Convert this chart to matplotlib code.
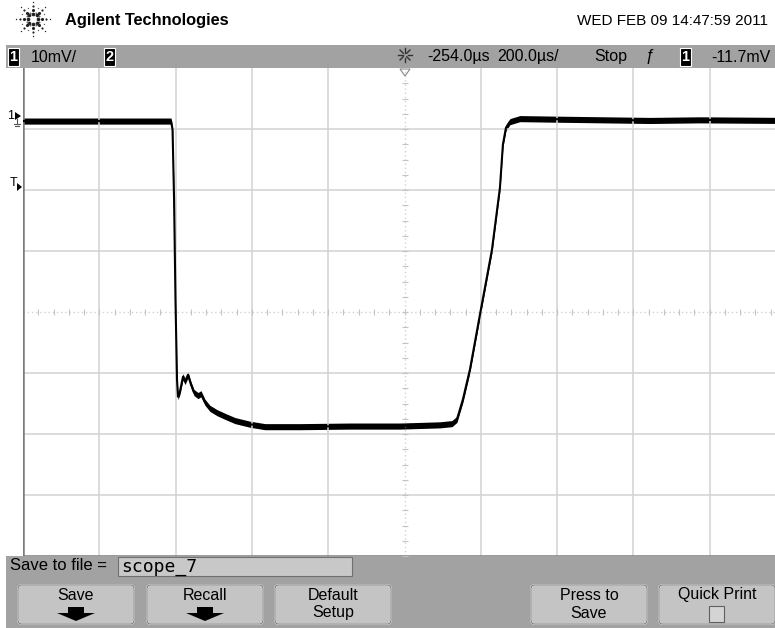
import matplotlib
matplotlib.use('Agg')
from matplotlib import pyplot as plt
from matplotlib.patches import Rectangle, FancyBboxPatch, Polygon
import numpy as np

# scope settings shown on the screen
volts_per_div = 10.0     # mV/div
time_per_div = 200.0     # us/div
delay_us = -254.0
trig_level_mv = -11.7
ground_div = 3.2         # ch1 ground marker, divisions above centre

# channel 1 trace (time us, volts mV)
time_us = [-1254, -866, -862, -858, -854.3, -850.3, -847.7, -842.5, -834.6, -829.4,
           -821.5, -813.7, -805.8, -795.3, -787.5, -777, -764, -745.5, -724.6, -698.4,
           -659, -619.7, -528, -397, -266, -161, -129.6, -116.5, -100.8, -82.4,
           -56.2, -24.8, -3.8, 4.0, 11.9, 22.4, 48.6, 153.5, 389, 520, 746]
volt_mv = [-0.7, -0.7, -2.1, -13.6, -30.0, -43.1, -45.9, -45.0, -42.6, -43.4,
           -42.3, -43.9, -45.2, -45.7, -45.4, -46.8, -47.8, -48.5, -49.1, -49.8,
           -50.4, -50.8, -50.8, -50.7, -50.7, -50.5, -50.3, -49.6, -46.3, -41.4,
           -32.4, -21.8, -11.6, -4.5, -1.8, -0.8, -0.3, -0.4, -0.6, -0.5, -0.6]

header_date = 'WED FEB 09 14:47:59 2011'
softkeys = ['Save', 'Recall', 'Default\nSetup', '', 'Press to\nSave', 'Quick Print']

SANS = ['Liberation Sans', 'DejaVu Sans']
GRID = '#d2d2d2'
BAR = '#a2a2a2'
KEY = '#c4c4c4'


def main():
    W, H = 775, 628
    fig = plt.figure(figsize=(W / 100, H / 100), dpi=100)
    fig.patch.set_facecolor('white')

    # background axes in pixel units for the scope furniture
    bg = fig.add_axes([0, 0, 1, 1])
    bg.set_xlim(0, W)
    bg.set_ylim(H, 0)
    bg.axis('off')

    # agilent spark logo
    cx, cy = 33, 19
    for k in range(8):
        a = k * np.pi / 4
        for r, s in [(5, 7), (9, 5), (13, 2.5), (17, 1)]:
            bg.scatter(cx + r * np.cos(a), cy + r * np.sin(a), s=s, color='#222222', lw=0)
        a2 = a + np.pi / 8
        for r, s in [(7, 2), (12, 1)]:
            bg.scatter(cx + r * np.cos(a2), cy + r * np.sin(a2), s=s, color='#666666', lw=0)
    bg.text(65, 21, 'Agilent Technologies', fontsize=11.8, fontweight='bold',
            family=SANS, va='center', ha='left')
    bg.text(768, 21, header_date, fontsize=11, family=SANS, va='center', ha='right')

    # top status bar
    bg.add_patch(Rectangle((6, 45), W - 6, 23, color=BAR, lw=0))
    for x0, lab in [(8, '1'), (104, '2'), (680, '1')]:
        bg.add_patch(Rectangle((x0, 47.5), 11, 18, facecolor='black', edgecolor='white', lw=0.8))
        bg.text(x0 + 5.5, 57, lab, color='white', fontsize=10.5, fontweight='bold',
                family=SANS, ha='center', va='center')
    bar_items = [(31, '%gmV/' % volts_per_div, 'left'),
                 (490, '%.1fµs' % delay_us, 'right'),
                 (497, '%.1fµs/' % time_per_div, 'left'),
                 (594, 'Stop', 'left'),
                 (650, 'ƒ', 'center'),
                 (771, '%.1fmV' % trig_level_mv, 'right')]
    for x0, lab, ha in bar_items:
        bg.text(x0, 57, lab, fontsize=11.5, family=SANS, ha=ha, va='center')
    # delay marker (sun) and triangle
    for k in range(8):
        a = k * np.pi / 4
        bg.plot([405 + 2.5 * np.cos(a), 405 + 7 * np.cos(a)],
                [55 + 2.5 * np.sin(a), 55 + 7 * np.sin(a)], color='#333333', lw=1)
    bg.add_patch(Polygon([(400, 69), (410, 69), (405, 76)], closed=True,
                         facecolor='white', edgecolor='#888888', lw=0.8))

    # bottom soft key area
    bg.add_patch(Rectangle((6, 556), W - 6, H - 556, color=BAR, lw=0))
    bg.text(10, 566, 'Save to file =', fontsize=12, family=SANS, ha='left', va='center')
    bg.add_patch(Rectangle((118, 557), 234, 19, facecolor='#c8c8c8', edgecolor='#707070', lw=0.8))
    bg.text(121, 566.5, 'scope_7', fontsize=13, family='DejaVu Sans Mono', ha='left', va='center')

    key_x = [17, 146, 274, 402, 530, 658]
    for x0, lab in zip(key_x, softkeys):
        if not lab:
            continue
        bg.add_patch(FancyBboxPatch((x0 + 1, 585), 116, 39, boxstyle='round,pad=0,rounding_size=4',
                                    facecolor=KEY, edgecolor='#eeeeee', lw=1.2))
        bg.add_patch(FancyBboxPatch((x0 + 1, 585), 116, 39, boxstyle='round,pad=0,rounding_size=4',
                                    facecolor='none', edgecolor='#6a6a6a', lw=0.6))
        xc = x0 + 59
        if '\n' in lab:
            top, bot = lab.split('\n')
            bg.text(xc, 595, top, fontsize=11.5, family=SANS, ha='center', va='center')
            bg.text(xc, 613, bot, fontsize=11.5, family=SANS, ha='center', va='center')
        else:
            bg.text(xc, 595, lab, fontsize=11.5, family=SANS, ha='center', va='center')
        if lab in ('Save', 'Recall'):
            bg.add_patch(Polygon([(xc - 8, 607), (xc + 8, 607), (xc + 8, 613), (xc + 19, 613),
                                  (xc, 621), (xc - 19, 613), (xc - 8, 613)],
                                 closed=True, color='black', lw=0))
        if lab == 'Quick Print':
            bg.add_patch(Rectangle((xc - 8, 606), 15, 16, facecolor='#d4d4d4',
                                   edgecolor='#606060', lw=0.8))

    # channel and trigger markers left of the graticule
    bg.text(11, 116, '1', fontsize=9, family=SANS, ha='center', va='center')
    bg.add_patch(Polygon([(15, 112), (15, 120), (21, 116)], closed=True, color='black', lw=0))
    bg.plot([17, 17], [119, 124], color='#555555', lw=0.8)
    bg.plot([14, 20], [124, 124], color='#555555', lw=0.8)
    bg.plot([15, 19], [126, 126], color='#555555', lw=0.8)
    bg.text(14, 183, 'T', fontsize=9, family=SANS, ha='center', va='center')
    bg.add_patch(Polygon([(17, 183), (17, 191), (22, 187)], closed=True, color='black', lw=0))

    # graticule axes: 10 x 8 divisions, right edge runs off the screen
    left_px, top_px, wdiv, hdiv = 23, 68, 76.3, 61.0
    ax = fig.add_axes([left_px / W, 1 - (top_px + 8 * hdiv) / H, 10 * wdiv / W, 8 * hdiv / H])
    ax.set_facecolor('none')
    t0 = delay_us - 5 * time_per_div
    t1 = delay_us + 5 * time_per_div
    v0 = (-4 - ground_div) * volts_per_div
    v1 = (4 - ground_div) * volts_per_div
    ax.set_xlim(t0, t1)
    ax.set_ylim(v0, v1)
    ax.set_xticks([])
    ax.set_yticks([])
    for s in ax.spines.values():
        s.set_visible(False)

    tc = delay_us
    vc = -ground_div * volts_per_div
    for i in range(1, 10):
        t = t0 + i * time_per_div
        if i == 5:
            ax.axvline(t, color=GRID, lw=1.0, ls=(0, (1, 2)))
        else:
            ax.axvline(t, color=GRID, lw=1.1)
    for j in range(1, 8):
        v = v0 + j * volts_per_div
        if j == 4:
            ax.axhline(v, color=GRID, lw=1.0, ls=(0, (1, 2)))
        else:
            ax.axhline(v, color=GRID, lw=1.1)
    # minor ticks on the centre lines
    mt = np.arange(t0, t1 + 1, time_per_div / 5)
    ax.plot(mt, np.full(len(mt), vc), ls='none', marker='|', ms=4, mew=0.8, color='#c4c4c4')
    mv = np.arange(v0, v1 + 0.1, volts_per_div / 4)
    ax.plot(np.full(len(mv), tc), mv, ls='none', marker='_', ms=4, mew=0.8, color='#c4c4c4')
    # frame
    ax.axvline(t0, color='#7a7a7a', lw=1.8)
    ax.axhline(v0, color='#7a7a7a', lw=1.8)

    # trace
    tt = np.array(time_us)
    vv = np.array(volt_mv)
    ax.fill_between(tt, vv - 0.5, vv + 0.5, color='black', lw=0)
    ax.plot(tt, vv, color='black', lw=1.5)

    plt.savefig('out.png', dpi=100)


if __name__ == "__main__":
    main()
